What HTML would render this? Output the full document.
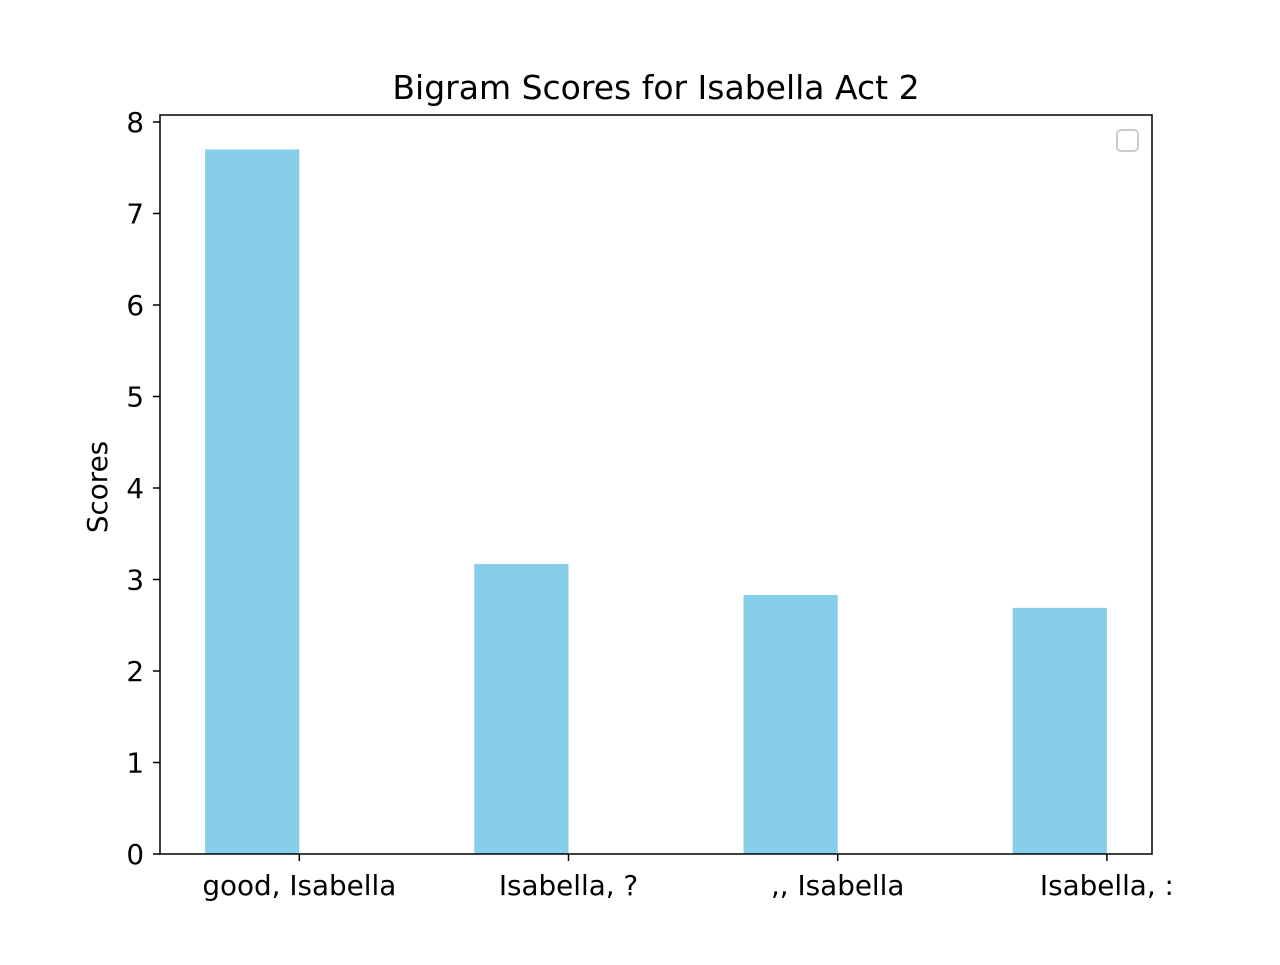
<!DOCTYPE html>
<html><head><meta charset="utf-8"><style>
body{margin:0;background:#fff;}
svg text{font-family:"DejaVu Sans","Liberation Sans",sans-serif;fill:#000;}
</style></head><body>
<svg id="chart" width="1280" height="960" xmlns="http://www.w3.org/2000/svg">
<rect width="1280" height="960" fill="#fff"/>
<text x="656" y="99" font-size="33" text-anchor="middle">Bigram Scores for Isabella Act 2</text>
<text transform="translate(107,487) rotate(-90)" font-size="27.8" text-anchor="middle">Scores</text>
<g id="bars"></g><g id="ticks"></g>
<rect x="160" y="115" width="992" height="739" fill="none" stroke="#000" stroke-width="1.5"/>
<rect x="1117" y="130" width="21" height="21" rx="4" fill="#fff" stroke="#ccc" stroke-width="2"/>
</svg>
<script>
const categories=["good, Isabella","Isabella, ?",",, Isabella","Isabella, :"];
const scores=[7.70,3.17,2.83,2.69];
const yTicks=[0,1,2,3,4,5,6,7,8];
const L=160,R=1152,T=115,B=854;
const xMin=-0.5175,xMax=3.1675,yMax=(B-T)/91.5;
const xs=v=>L+(v-xMin)/(xMax-xMin)*(R-L);
const ys=v=>B-v/yMax*(B-T);
const NS="http://www.w3.org/2000/svg";
const bars=document.getElementById('bars'),ticks=document.getElementById('ticks');
function mk(tag,attrs,parent){const e=document.createElementNS(NS,tag);for(const k in attrs)e.setAttribute(k,attrs[k]);parent.appendChild(e);return e;}
scores.forEach((v,i)=>{
  const r=mk('rect',{x:xs(i-0.35),y:ys(v),width:xs(i)-xs(i-0.35),height:ys(0)-ys(v),fill:'#87ceeb'},bars);
  
  
});
categories.forEach((c,i)=>{
  const l=mk('line',{x1:xs(i),x2:xs(i),y1:B,y2:B+7,stroke:'#000','stroke-width':1.5},ticks);
  
  
  const t=mk('text',{x:xs(i),y:B+41,'font-size':27.8,'text-anchor':'middle'},ticks);
  t.textContent=c;
  
  
});
yTicks.forEach(v=>{
  const l=mk('line',{x1:L-7,x2:L,y1:ys(v),y2:ys(v),stroke:'#000','stroke-width':1.5},ticks);
  
  
  const t=mk('text',{x:L-16,y:ys(v)+10,'font-size':27.8,'text-anchor':'end'},ticks);
  t.textContent=v;
  
  
});
</script>
</body></html>
